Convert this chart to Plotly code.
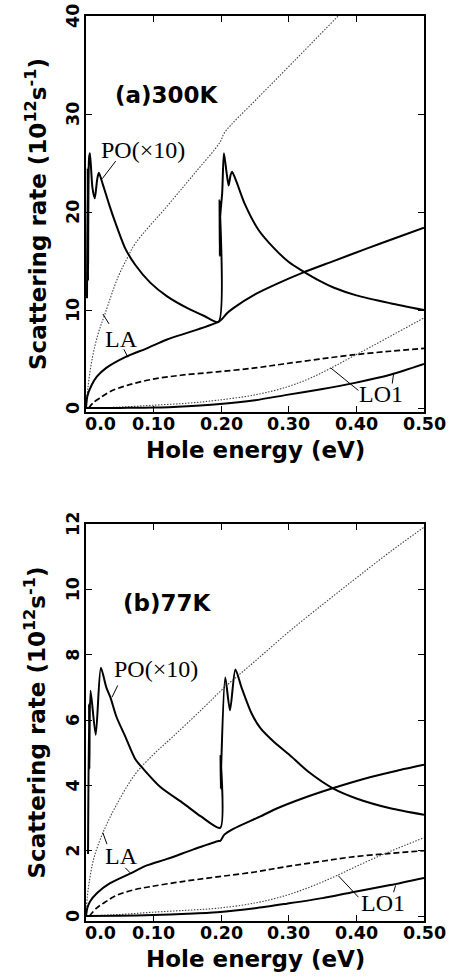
import plotly.graph_objects as go

# ---------------- (a) 300 K ----------------
a_dotup_E = [0, 0.003, 0.009, 0.018, 0.028, 0.047, 0.061, 0.073, 0.12, 0.16, 0.198, 0.205, 0.255, 0.305, 0.373, 0.42, 0.5]
a_dotup_v = [0, 2.2, 5.0, 7.6, 9.6, 13.3, 15.3, 16.8, 20.6, 23.9, 27.1, 28.1, 31.7, 35.2, 40.0, 43.3, 48.9]

a_po_E = [0.0015, 0.0025, 0.003, 0.0045, 0.0058, 0.0095, 0.013, 0.0165, 0.019, 0.025, 0.035, 0.043, 0.058, 0.073,
          0.095, 0.12, 0.15, 0.175, 0.196, 0.1975, 0.198, 0.1985, 0.2015, 0.204, 0.208, 0.211, 0.214, 0.216, 0.222,
          0.235, 0.255, 0.277, 0.30, 0.32, 0.345, 0.366, 0.40, 0.45, 0.5]
a_po_v = [11.2, 24.5, 13.0, 25.5, 26.0, 22.5, 21.4, 23.3, 24.0, 22.8, 20.6, 19.0, 16.3, 14.6,
          12.8, 11.4, 10.2, 9.4, 8.8, 21.2, 15.5, 19.5, 22.0, 26.0, 24.0, 22.7, 23.8, 24.1, 23.2,
          20.8, 18.2, 16.4, 14.9, 14.0, 13.0, 12.3, 11.5, 10.7, 10.0]

a_la_E = [0, 0.002, 0.008, 0.016, 0.03, 0.058, 0.09, 0.12, 0.16, 0.196, 0.2, 0.209, 0.218, 0.25, 0.283, 0.32, 0.366, 0.416, 0.46, 0.5]
a_la_v = [0, 1.2, 2.3, 3.2, 4.1, 5.2, 6.1, 7.0, 7.9, 8.8, 9.0, 9.7, 10.2, 11.6, 12.7, 13.8, 15.0, 16.3, 17.4, 18.4]

a_dash_E = [0.004, 0.01, 0.02, 0.036, 0.06, 0.095, 0.14, 0.194, 0.25, 0.292, 0.34, 0.391, 0.45, 0.5]
a_dash_v = [0, 0.5, 1.0, 1.7, 2.3, 2.9, 3.35, 3.7, 4.1, 4.5, 4.95, 5.4, 5.8, 6.1]

a_dotlo_E = [0, 0.05, 0.1, 0.15, 0.194, 0.25, 0.297, 0.33, 0.36, 0.39, 0.42, 0.46, 0.5]
a_dotlo_v = [0, 0.1, 0.3, 0.5, 0.8, 1.35, 2.15, 3.0, 4.0, 5.1, 6.2, 7.7, 9.2]

a_lo1_E = [0, 0.05, 0.1, 0.15, 0.194, 0.25, 0.297, 0.35, 0.396, 0.45, 0.5]
a_lo1_v = [0, 0.02, 0.05, 0.2, 0.4, 0.8, 1.35, 1.95, 2.55, 3.4, 4.5]

# ---------------- (b) 77 K ----------------
b_dotup_E = [0, 0.002, 0.006, 0.012, 0.025, 0.045, 0.073, 0.1, 0.129, 0.17, 0.205, 0.25, 0.3, 0.354, 0.4, 0.45, 0.5]
b_dotup_v = [0, 0.6, 1.2, 1.8, 2.55, 3.4, 4.35, 4.95, 5.5, 6.3, 7.0, 7.8, 8.7, 9.6, 10.35, 11.15, 11.9]

b_po_E = [0.003, 0.0045, 0.005, 0.0067, 0.0144, 0.022, 0.03, 0.036, 0.045, 0.058, 0.073, 0.085, 0.11, 0.144, 0.17,
          0.1985, 0.199, 0.1995, 0.2, 0.206, 0.213, 0.221, 0.23, 0.245, 0.258, 0.277, 0.3, 0.33, 0.366, 0.4, 0.45, 0.5]
b_po_v = [1.9, 6.5, 4.5, 6.9, 5.55, 7.6, 7.0, 6.7, 6.1, 5.5, 4.8, 4.5, 3.95, 3.45, 3.05,
          2.7, 4.9, 3.9, 4.6, 7.3, 6.3, 7.55, 7.0, 6.2, 5.75, 5.35, 4.95, 4.4, 3.9, 3.6, 3.3, 3.1]

b_la_E = [0, 0.002, 0.006, 0.016, 0.035, 0.065, 0.09, 0.12, 0.16, 0.196, 0.1985, 0.205, 0.218, 0.258, 0.283, 0.32, 0.366, 0.42, 0.46, 0.5]
b_la_v = [0, 0.25, 0.45, 0.7, 1.0, 1.3, 1.55, 1.75, 2.05, 2.3, 2.3, 2.5, 2.67, 3.05, 3.3, 3.6, 3.92, 4.25, 4.45, 4.63]

b_dash_E = [0.005, 0.016, 0.03, 0.046, 0.07, 0.095, 0.14, 0.194, 0.25, 0.292, 0.34, 0.39, 0.45, 0.5]
b_dash_v = [0, 0.25, 0.45, 0.64, 0.8, 0.9, 1.05, 1.2, 1.35, 1.5, 1.65, 1.8, 1.92, 2.0]

b_dotlo_E = [0, 0.05, 0.1, 0.15, 0.194, 0.25, 0.297, 0.335, 0.371, 0.41, 0.45, 0.5]
b_dotlo_v = [0, 0.05, 0.12, 0.18, 0.24, 0.4, 0.64, 0.92, 1.24, 1.62, 1.98, 2.4]

b_lo1_E = [0, 0.05, 0.1, 0.15, 0.194, 0.25, 0.297, 0.35, 0.396, 0.45, 0.5]
b_lo1_v = [0, 0.01, 0.03, 0.07, 0.12, 0.24, 0.38, 0.55, 0.74, 0.95, 1.17]

# tick marks and tick labels
x_tickvals = [0.1, 0.2, 0.3, 0.4, 0.5]
x_labelpos = [0.021, 0.1, 0.2, 0.3, 0.4, 0.5]
x_labels = ["0.0", "0.10", "0.20", "0.30", "0.40", "0.50"]
ya_tickvals = [0, 10, 20, 30, 40]
ya_labels = ["0", "10", "20", "30", "40"]
yb_tickvals = [0, 2, 4, 6, 8, 10, 12]
yb_labels = ["0", "2", "4", "6", "8", "10", "12"]

# curve labels: (text, x, y)
a_labels = [("PO(×10)", 0.084, 26.3), ("LA", 0.053, 7.1), ("LO1", 0.437, 1.4)]
b_labels = [("PO(×10)", 0.104, 7.55), ("LA", 0.052, 1.85), ("LO1", 0.439, 0.4)]
# leader lines: (x0, y0, x1, y1)
a_leaders = [(0.044, 25.2, 0.024, 23.4), (0.034, 8.6, 0.025, 9.6), (0.056, 6.0, 0.062, 5.2),
             (0.403, 1.8, 0.362, 4.1), (0.453, 2.5, 0.455, 3.5)]
b_leaders = [(0.047, 7.06, 0.0385, 6.7), (0.031, 2.2, 0.025, 2.55), (0.058, 1.48, 0.065, 1.33),
             (0.403, 0.58, 0.373, 1.24), (0.455, 0.73, 0.458, 0.94)]

SOLID = dict(color="black", width=2, shape="spline", smoothing=0.7)
DASH = dict(color="black", width=1.7, dash="6px,3px", shape="spline", smoothing=1.0)
DOT = dict(color="#444444", width=1.1, dash="1.5px,1.5px", shape="spline", smoothing=1.0)

fig = go.Figure()

def add(E, v, line, xa, ya):
    fig.add_trace(go.Scatter(x=E, y=v, mode="lines", line=line, xaxis=xa, yaxis=ya,
                             showlegend=False, hoverinfo="skip"))

for xa, ya, series in [
    ("x", "y", [(a_dotup_E, a_dotup_v, DOT), (a_po_E, a_po_v, SOLID), (a_la_E, a_la_v, SOLID),
                (a_dash_E, a_dash_v, DASH), (a_dotlo_E, a_dotlo_v, DOT), (a_lo1_E, a_lo1_v, SOLID)]),
    ("x2", "y2", [(b_dotup_E, b_dotup_v, DOT), (b_po_E, b_po_v, SOLID), (b_la_E, b_la_v, SOLID),
                  (b_dash_E, b_dash_v, DASH), (b_dotlo_E, b_dotlo_v, DOT), (b_lo1_E, b_lo1_v, SOLID)]),
]:
    for E, v, ln in series:
        add(E, v, ln, xa, ya)

BOLD = "DejaVu Sans"
TICKFONT = dict(family=BOLD, size=17.5, color="black", weight="bold")
TITLEFONT = dict(family=BOLD, size=23, color="black", weight="bold")
SERIF = dict(family="Liberation Serif", size=24, color="black")

common_x = dict(range=[0, 0.5], tickvals=x_tickvals, ticks="inside", ticklen=6, showticklabels=False,
                tickwidth=1.2, tickcolor="black", showline=True, linewidth=2, linecolor="black",
                mirror="ticks", showgrid=False, zeroline=False, domain=[0, 1])
common_y = dict(ticks="inside", ticklen=6, tickwidth=1.2, tickcolor="black", showline=True, linewidth=2,
                linecolor="black", mirror="ticks", showgrid=False, zeroline=False, showticklabels=False)

fig.update_layout(
    width=450, height=979, margin=dict(l=86, r=26, t=16, b=58),
    plot_bgcolor="white", paper_bgcolor="white",
    xaxis=dict(common_x, anchor="y"),
    yaxis=dict(common_y, anchor="x", domain=[0.5624, 1], range=[-0.4, 40], tickvals=ya_tickvals),
    xaxis2=dict(common_x, anchor="y2"),
    yaxis2=dict(common_y, anchor="x2", domain=[0, 0.4387], range=[-0.15, 12], tickvals=yb_tickvals),
)

ytitle = "Scattering rate (10<sup>12</sup>s<sup>-1</sup>)"
for xr, yr, panel, labels, leaders, ytv, ytl in [
        ("x", "y", "(a)300K", a_labels, a_leaders, ya_tickvals, ya_labels),
        ("x2", "y2", "(b)77K", b_labels, b_leaders, yb_tickvals, yb_labels)]:
    fig.add_annotation(text=ytitle, xref="paper", yref=yr + " domain", x=-0.148, y=0.5,
                       textangle=-90, showarrow=False, font=TITLEFONT, xanchor="center", yanchor="middle")
    fig.add_annotation(text="Hole energy (eV)", xref="paper", yref=yr + " domain", x=0.5, y=0,
                       yshift=-38, showarrow=False, font=TITLEFONT, xanchor="center", yanchor="middle")
    for xv, xt in zip(x_labelpos, x_labels):
        fig.add_annotation(text=xt, xref=xr, yref=yr + " domain", x=xv, y=0, yshift=-12,
                           showarrow=False, font=TICKFONT, xanchor="center", yanchor="middle")
    for yv, yt in zip(ytv, ytl):
        fig.add_annotation(text=yt, xref=xr + " domain", yref=yr, x=0, y=yv, xshift=-13,
                           textangle=-90, showarrow=False, font=TICKFONT, xanchor="center", yanchor="middle")
    fig.add_annotation(text=panel, xref=xr + " domain", yref=yr + " domain", x=0.24, y=0.8,
                       showarrow=False, font=TITLEFONT, xanchor="center", yanchor="middle")
    for t, lx, ly in labels:
        fig.add_annotation(text=t, xref=xr, yref=yr, x=lx, y=ly, showarrow=False, font=SERIF,
                           xanchor="center", yanchor="middle")
    for x0, y0, x1, y1 in leaders:
        fig.add_shape(type="line", xref=xr, yref=yr, x0=x0, y0=y0, x1=x1, y1=y1,
                      line=dict(color="black", width=1))

fig.write_html("out.html")
